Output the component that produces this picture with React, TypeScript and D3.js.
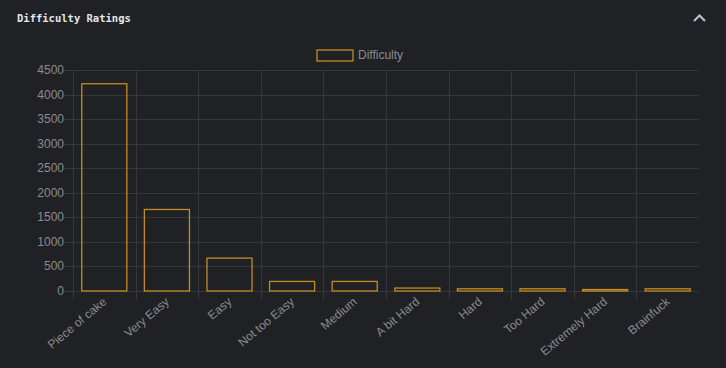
import * as d3 from "d3";

// chart data
const categories = [
  "Piece of cake",
  "Very Easy",
  "Easy",
  "Not too Easy",
  "Medium",
  "A bit Hard",
  "Hard",
  "Too Hard",
  "Extremely Hard",
  "Brainfuck",
];
const difficulty = [4220, 1660, 670, 195, 195, 60, 45, 45, 30, 45];
const yTicks = [0, 500, 1000, 1500, 2000, 2500, 3000, 3500, 4000, 4500];
const seriesName = "Difficulty";

const W = 726;
const H = 368;
const plot = { left: 73, right: 699, top: 70, bottom: 291 };
const bg = "#1f2125";
const gridColor = "#34373c";
const textColor = "#8a8c90";
const barColor = "#c38b24";

export default function App() {
  const x = d3
    .scaleBand<string>()
    .domain(categories)
    .range([plot.left, plot.right])
    .paddingInner(0)
    .paddingOuter(0);
  const y = d3.scaleLinear().domain([0, 4500]).range([plot.bottom, plot.top]);
  const step = x.step();
  const barW = step * 0.72;

  return (
    <div style={{ position: "fixed", left: 0, top: 0, width: W, height: H, background: bg }}>
      <svg width={W} height={H} style={{ display: "block" }}>
        <rect width={W} height={H} fill={bg} />
        {/* header */}
        <text
          x={17}
          y={22}
          fill="#e4e6ea"
          fontFamily="'DejaVu Sans Mono', monospace"
          fontWeight="bold"
          fontSize={10.5}
        >
          Difficulty Ratings
        </text>
        <path d="M694,21 L699.5,15.5 L705,21" fill="none" stroke="#b4c2d0" strokeWidth={2.2} />

        {/* legend */}
        <rect x={317} y={50} width={36} height={11} fill="none" stroke={barColor} strokeWidth={1.3} />
        <text x={358} y={59} fill={textColor} fontFamily="'Liberation Sans', Arial, sans-serif" fontSize={12}>
          {seriesName}
        </text>

        {/* horizontal grid + ticks */}
        {yTicks.map((t) => (
          <g key={t}>
            <line
              x1={plot.left - 9}
              x2={plot.right}
              y1={Math.round(y(t)) + 0.5}
              y2={Math.round(y(t)) + 0.5}
              stroke={gridColor}
            />
            <text
              x={64}
              y={y(t) + 4}
              textAnchor="end"
              fill={textColor}
              fontFamily="'Liberation Sans', Arial, sans-serif"
              fontSize={12}
            >
              {t}
            </text>
          </g>
        ))}

        {/* vertical grid at category boundaries */}
        {categories.map((c) => (
          <line
            key={c}
            x1={Math.round(x(c)!) + 0.5}
            x2={Math.round(x(c)!) + 0.5}
            y1={plot.top}
            y2={plot.bottom + 9}
            stroke={gridColor}
          />
        ))}

        {/* bars */}
        {categories.map((c, i) => {
          const cx = x(c)! + step / 2;
          const top = y(difficulty[i]);
          return (
            <rect
              key={c}
              x={cx - barW / 2}
              y={top}
              width={barW}
              height={plot.bottom - top}
              fill="none"
              stroke={barColor}
              strokeWidth={1.3}
            />
          );
        })}

        {/* x labels */}
        {categories.map((c) => {
          const cx = x(c)! + step / 2;
          return (
            <text
              key={c}
              transform={`translate(${cx + 3},${plot.bottom + 12}) rotate(-40)`}
              textAnchor="end"
              fill={textColor}
              fontFamily="'Liberation Sans', Arial, sans-serif"
              fontSize={12}
            >
              {c}
            </text>
          );
        })}
      </svg>
    </div>
  );
}
